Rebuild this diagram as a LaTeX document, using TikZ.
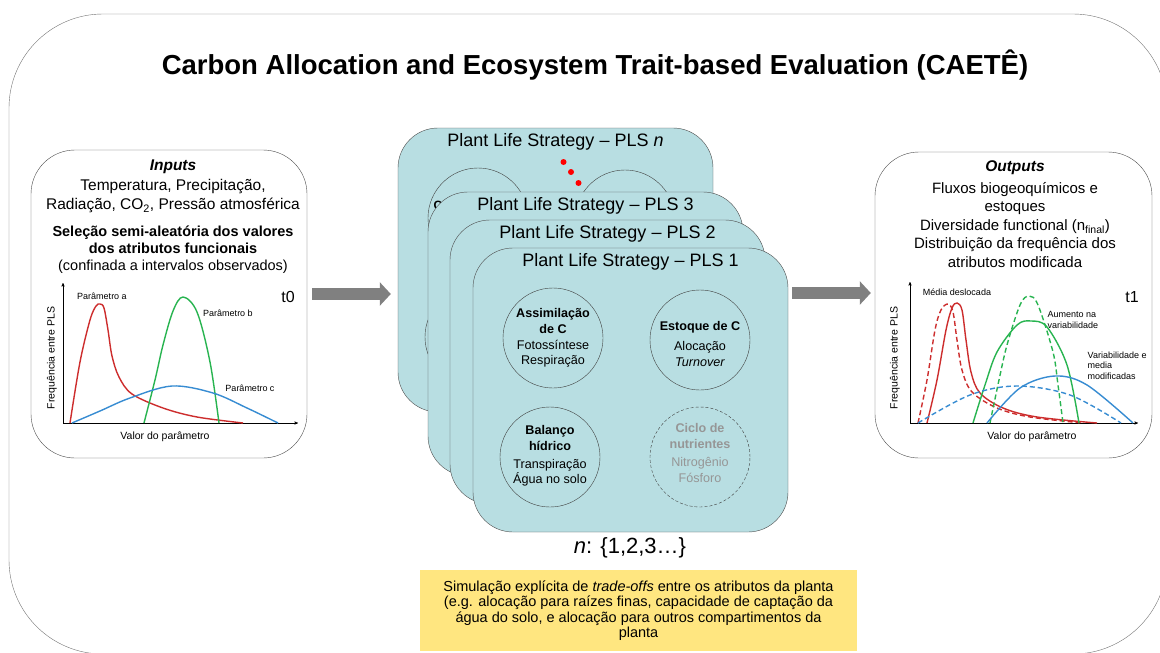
\documentclass[tikz,border=0pt]{standalone}
\usepackage{fontspec}
\setmainfont{Liberation Sans}
\usepackage{xcolor}
\usetikzlibrary{calc,positioning,arrows,arrows.meta,shapes.geometric}
\definecolor{cardblue}{RGB}{184,222,226}
\definecolor{notegold}{RGB}{255,230,128}
\definecolor{arrowgray}{RGB}{128,128,128}
\definecolor{curvered}{RGB}{205,45,45}
\definecolor{curvegreen}{RGB}{40,180,80}
\definecolor{curveblue}{RGB}{55,140,210}
\definecolor{dimtext}{RGB}{150,150,150}
\tikzset{
>=stealth',
  panel/.style={
    rectangle,
    rounded corners=44,
    draw=black!70, thin,
    fill=white,
    inner sep=0},
  card/.style={
    rectangle,
    rounded corners=40,
    draw=black!70, thin,
    fill=cardblue,
    minimum width=315,
    minimum height=284,
    inner sep=0},
  module/.style={circle, draw=black!75, thin, minimum size=100, inner sep=0},
  bigarrow/.style={draw=arrowgray, line width=12pt, -{Triangle[length=11pt,width=23pt]}},
  axis/.style={draw, thin, ->},
  curve/.style={line width=1.4pt, smooth, tension=0.55},
  dashcurve/.style={curve, dash pattern=on 5pt off 3pt},
}

\begin{document}
\begin{tikzpicture}[x=1pt,y=-1pt]
    \tikzset{
        every node/.style={inner sep=0.25em},
        heading/.style={font=\fontsize{27.5}{30}\selectfont\bfseries},
        paneltext/.style={align=center, font=\fontsize{15.5}{19.5}\selectfont},
        cardtitle/.style={font=\fontsize{18}{20}\selectfont},
        modtext/.style={align=center, font=\fontsize{12.6}{15.8}\selectfont},
        plotlabel/.style={font=\fontsize{9}{10.5}\selectfont, align=left},
        axislabel/.style={font=\fontsize{10.5}{12}\selectfont},
        note/.style={fill=notegold, minimum width=437, minimum height=81, align=center, font=\fontsize{14.5}{15.5}\selectfont},
    }
    \useasboundingbox (0,0) rectangle (1160,653);
    \draw[draw=black!55, rounded corners=94] (9,14) rectangle (1167,654);

    \node[heading] (title) at (595,65) {Carbon Allocation and Ecosystem Trait-based Evaluation (CAETÊ)};

    % inputs
    \node[panel, minimum width=276, minimum height=308] (inputs) at (169,304) {};
    \node[paneltext] (inhead) at (173,167) {\textbf{\textit{Inputs}}};
    \node[paneltext] (invars) at (173,196) {Temperatura, Precipitação,\\Radiação, CO\textsubscript{2}, Pressão atmosférica};
    \node[paneltext, font=\fontsize{14.5}{17}\selectfont] (insel) at (173,250) {\textbf{Seleção semi-aleatória dos valores}\\\textbf{dos atributos funcionais}\\(confinada a intervalos observados)};

    \coordinate (o0) at (63,423);
    \draw[axis] (o0) -- (63,283);
    \draw[axis] (o0) -- (298,423);
    \draw[curve, curvered] plot coordinates {(70,423) (80,362) (90,320) (96,306) (100,304) (104,308) (108,330) (112,356) (119,377) (132,394) (163,408) (197,417) (243,423)};
    \draw[curve, curvegreen] plot coordinates {(144,423) (155,380) (163,345) (173,311) (183,297) (197,312) (210,362) (219,423)};
    \draw[curve, curveblue] plot coordinates {(72,423) (100,411) (130,398) (172,386) (213,393) (247,408) (278,423)};
    \node[plotlabel] (pa) at (102,296) {Parâmetro a};
    \node[plotlabel] (pb) at (228,313) {Parâmetro b};
    \node[plotlabel] (pc) at (250,388) {Parâmetro c};
    \node[axislabel, rotate=90] (ylab0) at (52,358) {Frequência entre PLS};
    \node[axislabel] (xlab0) at (165,437) {Valor do parâmetro};
    \node[paneltext, font=\fontsize{16}{18}\selectfont] (t0) at (288,297) {t0};

    % stack of plant life strategies
    \node[card] (cardn) at (555.5,270) {};
    \node[cardtitle, below=3pt of cardn.north] (titlen) {Plant Life Strategy -- PLS \textit{n}};
    \node[module] (assimn) at ($(cardn)+(-77.5,-52)$) {};
    \node[module] (estoqn) at ($(cardn)+(69.5,-50)$) {};
    \node[module] (hidrn) at ($(cardn)+(-80.5,67)$) {};
    \node[module, densely dashed] (nutrn) at ($(cardn)+(69.5,67)$) {};
    \node[modtext, font=\fontsize{12}{14}\selectfont\bfseries] (partc) at (438,205) {C};
    \foreach \y [count=\k] in {162,172,183}
        \fill[red] (556+7.5*\k,\y) circle (3pt);

    \foreach \i/\dx/\dy in {3/-45/-56, 2/-23/-28, 1/0/0} {
        \node[card] (card\i) at (630.5+\dx,390+\dy) {};
        \node[cardtitle, below=3pt of card\i.north] (title\i) {Plant Life Strategy -- PLS \i};
        \node[module] (assim\i) at ($(card\i)+(-77.5,-52)$) {};
        \node[module] (estoq\i) at ($(card\i)+(69.5,-50)$) {};
        \node[module] (hidr\i) at ($(card\i)+(-80.5,67)$) {};
        \node[module, densely dashed] (nutr\i) at ($(card\i)+(69.5,67)$) {};
    }
    \node[modtext] (assimtxt) at (assim1) {\textbf{Assimilação}\\\textbf{de C}\\Fotossíntese\\Respiração};
    \node[modtext] (estoqtxt) at ([yshift=-4pt]estoq1) {\textbf{Estoque de C}\\[4pt]Alocação\\\textit{Turnover}};
    \node[modtext] (hidrtxt) at ([yshift=1pt]hidr1) {\textbf{Balanço}\\\textbf{hídrico}\\[2pt]Transpiração\\Água no solo};
    \node[modtext, text=dimtext] (nutrtxt) at ([yshift=4pt]nutr1) {\textbf{Ciclo de}\\\textbf{nutrientes}\\[2pt]Nitrogênio\\Fósforo};

    \node[font=\fontsize{22}{24}\selectfont] (nset) at (630,548) {\textit{n}: \{1,2,3…\}};
    \node[note] (tradeoffs) at (638.5,610.5) {Simulação explícita de \textit{trade-offs} entre os atributos da planta\\(e.g. alocação para raízes finas, capacidade de captação da\\água do solo, e alocação para outros compartimentos da\\planta};

    % outputs
    \node[panel, minimum width=277, minimum height=306] (outputs) at (1013.5,305) {};
    \node[paneltext] (outhead) at (1015,168) {\textbf{\textit{Outputs}}};
    \node[paneltext, font=\fontsize{15}{18.5}\selectfont] (outlist) at (1015,225) {Fluxos biogeoquímicos e\\estoques\\Diversidade functional (n\textsubscript{final})\\Distribuição da frequência dos\\atributos modificada};

    \coordinate (o1) at (910,423);
    \draw[axis] (o1) -- (910,282);
    \draw[axis] (o1) -- (1138,423);
    \draw[dashcurve, curvered] plot coordinates {(918,423) (927,380) (935,330) (941,310) (948,304) (953,312) (957,340) (962,370) (972,392) (997,408) (1030,417) (1083,423)};
    \draw[curve, curvered] plot coordinates {(927,423) (937,380) (946,330) (952,308) (957,303) (962,310) (966,340) (971,372) (980,393) (1003,408) (1037,417) (1097,423)};
    \draw[dashcurve, curvegreen] plot coordinates {(990,423) (999,380) (1007,345) (1020,305) (1029,296) (1038,305) (1053,352) (1058,385) (1063,423)};
    \draw[curve, curvegreen] plot coordinates {(973,423) (985,385) (997,352) (1017,325) (1031,321) (1047,327) (1067,365) (1079,423)};
    \draw[dashcurve, curveblue] plot coordinates {(918,423) (970,395) (1017,386) (1070,395) (1121,423)};
    \draw[curve, curveblue] plot coordinates {(987,423) (1020,388) (1055,376) (1087,385) (1133,423)};
    \node[plotlabel] (shift) at (957,292) {Média deslocada};
    \node[plotlabel, anchor=west] (spread) at (1045,320) {Aumento na\\variabilidade};
    \node[plotlabel, anchor=west] (both) at (1085,365.5) {Variabilidade e\\media\\modificadas};
    \node[axislabel, rotate=90] (ylab1) at (895,358) {Frequência entre PLS};
    \node[axislabel] (xlab1) at (1032,437) {Valor do parâmetro};
    \node[paneltext, font=\fontsize{16}{18}\selectfont] (t1) at (1132,297) {t1};

    \path[bigarrow] ([xshift=5pt,yshift=10pt]inputs.east) -- ([xshift=-7pt,yshift=-24pt]cardn.west);
    \path[bigarrow] ([xshift=4pt,yshift=97pt]card1.east) -- ([xshift=-4pt,yshift=12pt]outputs.west);

\end{tikzpicture}
\end{document}
